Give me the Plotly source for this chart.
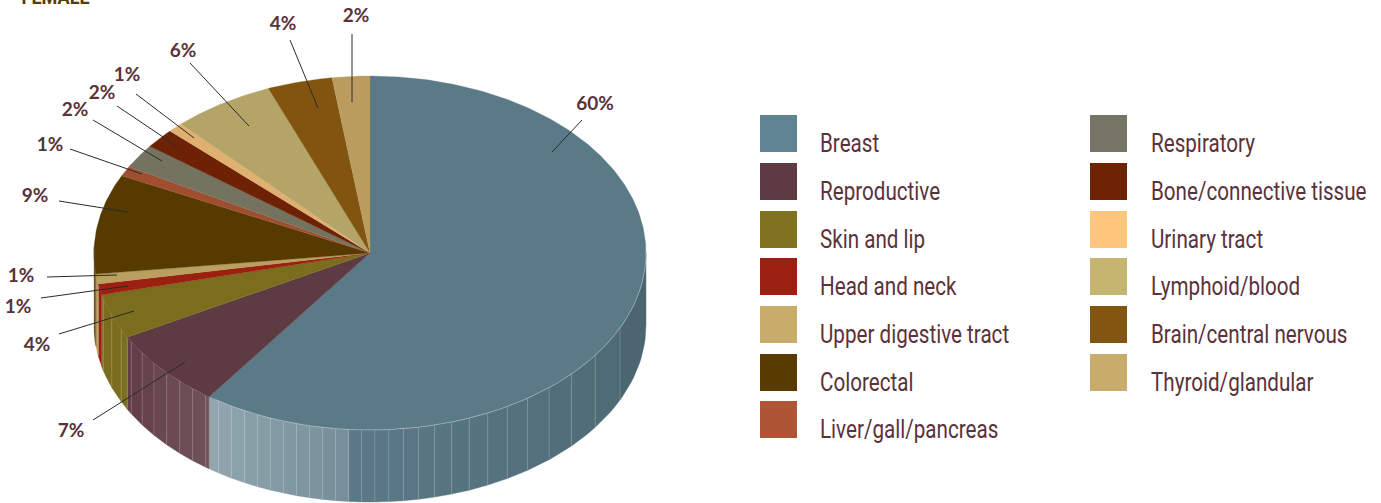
import math
import plotly.graph_objects as go

# ---- data ----
categories = ["Breast", "Reproductive", "Skin and lip", "Head and neck", "Upper digestive tract",
              "Colorectal", "Liver/gall/pancreas", "Respiratory", "Bone/connective tissue",
              "Urinary tract", "Lymphoid/blood", "Brain/central nervous", "Thyroid/glandular"]
slice_values = [59.9, 7.2, 4.1, 1.0, 0.9, 9.1, 0.9, 2.2, 1.8, 0.9, 6.0, 3.8, 2.2]
percent_labels = ["60%", "7%", "4%", "1%", "1%", "9%", "1%", "2%", "2%", "1%", "6%", "4%", "2%"]

# ---- styles ----
top_colors = ["#5b7a87", "#5e3a42", "#7b6d1e", "#9b2010", "#b9a060", "#573a00", "#a04e30",
              "#74735f", "#6e2205", "#e0b070", "#b5a468", "#815510", "#b99c5e"]
legend_colors = ["#608392", "#5e3a42", "#80731f", "#9c2010", "#c7ad69", "#573b00", "#b05436",
                 "#747565", "#6e2404", "#fec67c", "#c5b571", "#825611", "#c7ad69"]
INK = "#5a323a"
LEADER = "#2e2a2a"

# ---- layout constants (pixels of the page) ----
W, H = 1381, 503
CX, CY, RX, RY, DEPTH = 370, 253, 276, 177, 72

label_xy = [(595, 105), (71, 432), (37, 346), (18, 308), (21, 277), (35, 197), (50, 146),
            (75, 111), (102, 94), (127, 76), (183, 52), (283, 25), (356, 17)]
leader_xy = [((552, 152), (582, 120)), ((185, 362), (93, 420)), ((134, 311), (59, 334)),
             ((128, 286), (41, 298)), ((117, 275), (47, 277)), ((128, 212), (59, 201)),
             ((142, 174), (70, 149)), ((162, 161), (93, 120)), ((178, 147), (117, 106)),
             ((194, 138), (136, 94)), ((249, 126), (190, 63)), ((318, 108), (290, 40)),
             ((352, 102), (352, 34))]
swatch_x = [778.5] * 7 + [1108.5] * 6
swatch_y = [133.5, 181.5, 229.5, 276.5, 324.5, 372.5, 419.5, 133.5, 181.5, 229.5, 276.5, 324.5, 372.5]
legend_text_x = [820] * 7 + [1151] * 6
legend_text_dy = 12.5


def pt(deg, dy=0.0):
    a = math.radians(deg)
    return CX + RX * math.sin(a), CY - RY * math.cos(a) + dy


def shade(hex_color, deg):
    """facet shading: dark on the right, lighter towards the lower left"""
    r, g, b = (int(hex_color[i:i + 2], 16) for i in (1, 3, 5))
    if deg < 184.8:
        k = 0.82 + 0.18 * (deg - 90) / 95
        r, g, b = r * k, g * k, b * k
    else:
        k = min(0.34, 0.16 + 0.18 * (deg - 185) / 30) if deg < 216 else max(0.0, 0.12 - (deg - 216) * 0.004)
        r, g, b = r + (255 - r) * k, g + (255 - g) * k, b + (255 - b) * k
    return f"rgb({int(r)},{int(g)},{int(b)})"


def facet_angles():
    """wall facets: wide towards the right edge, narrow at the left edge, as in the picture"""
    out = [90.0]
    x = CX + RX
    while x > CX - RX + 3:
        if x > CX:
            step = 13 + 13 * (x - CX) / RX
        else:
            step = max(5, 13 - 8 * max(0, (CX - 200 - x)) / 106)
        x -= step
        dx = max(-1, min(1, (x - CX) / RX))
        deg = 180 - math.degrees(math.asin(dx))
        out.append(deg)
    out.append(272.0)
    return out


total = sum(slice_values)
edges = [0.0]
for v in slice_values:
    edges.append(edges[-1] + v / total * 360)

fig = go.Figure()

# side wall
seams = facet_angles()
seam_x, seam_y = [], []
for i in range(len(slice_values)):
    a0, a1 = max(edges[i], 90), min(edges[i + 1], 272)
    if a1 <= a0:
        continue
    cuts = [a0] + [s for s in seams if a0 < s < a1] + [a1]
    for s0, s1 in zip(cuts[:-1], cuts[1:]):
        n = max(2, int((s1 - s0) / 1.5))
        steps = [s0 + (s1 - s0) * k / n for k in range(n + 1)]
        top = [pt(s) for s in steps]
        bot = [pt(s, DEPTH) for s in reversed(steps)]
        xs = [p[0] for p in top + bot] + [top[0][0]]
        ys = [p[1] for p in top + bot] + [top[0][1]]
        col = shade(top_colors[i], (s0 + s1) / 2)
        fig.add_trace(go.Scatter(x=xs, y=ys, mode="lines", fill="toself", fillcolor=col,
                                 line=dict(width=0.4, color=col), hoverinfo="skip", showlegend=False))
        if s1 < 272:
            p, q = pt(s1), pt(s1, DEPTH)
            seam_x += [p[0], q[0], None]
            seam_y += [p[1], q[1], None]
fig.add_trace(go.Scatter(x=seam_x, y=seam_y, mode="lines",
                         line=dict(width=0.8, color="rgba(255,255,255,0.22)"),
                         hoverinfo="skip", showlegend=False))

# top face
for i in range(len(slice_values)):
    n = max(3, int((edges[i + 1] - edges[i]) * 2))
    arc = [pt(edges[i] + (edges[i + 1] - edges[i]) * k / n) for k in range(n + 1)]
    xs = [CX] + [p[0] for p in arc] + [CX]
    ys = [CY] + [p[1] for p in arc] + [CY]
    fig.add_trace(go.Scatter(x=xs, y=ys, mode="lines", fill="toself", fillcolor=top_colors[i],
                             line=dict(width=0.3, color=top_colors[i]),
                             hoverinfo="skip", showlegend=False))

# light rim along the front edge
rim = [pt(90 + k * 2) for k in range(63)]
fig.add_trace(go.Scatter(x=[p[0] for p in rim], y=[p[1] for p in rim], mode="lines",
                         line=dict(width=0.8, color="rgba(255,255,255,0.38)"),
                         hoverinfo="skip", showlegend=False))

# leader lines
for a, b in leader_xy:
    fig.add_trace(go.Scatter(x=[a[0], b[0]], y=[a[1], b[1]], mode="lines",
                             line=dict(width=1, color=LEADER), hoverinfo="skip", showlegend=False))

# percent labels
fig.add_trace(go.Scatter(x=[p[0] for p in label_xy], y=[p[1] for p in label_xy], mode="text",
                         text=percent_labels, textposition="middle center",
                         textfont=dict(family="Lato", size=19, color=INK, weight="bold"),
                         hoverinfo="skip", showlegend=False))

# legend
fig.add_trace(go.Scatter(x=swatch_x, y=swatch_y, mode="markers",
                         marker=dict(symbol="square", size=37, color=legend_colors, line=dict(width=0)),
                         hoverinfo="skip", showlegend=False))
fig.add_trace(go.Scatter(x=legend_text_x, y=[y + legend_text_dy for y in swatch_y], mode="text",
                         text=categories, textposition="middle right",
                         textfont=dict(family="Roboto", size=25, color=INK),
                         hoverinfo="skip", showlegend=False))

fig.add_annotation(x=16, y=9, xref="x", yref="y", text="<b>FEMALE</b>", showarrow=False,
                   xanchor="left", yanchor="bottom", borderpad=0, borderwidth=0,
                   font=dict(family="Roboto", size=21, color="#5a3d00"))

fig.update_layout(width=W, height=H, margin=dict(l=0, r=0, t=0, b=0),
                  paper_bgcolor="white", plot_bgcolor="white",
                  xaxis=dict(range=[0, W], visible=False, fixedrange=True),
                  yaxis=dict(range=[H, 0], visible=False, fixedrange=True))

# page without its default margin; the faces are narrowed to the reference's condensed type
POST = """
document.body.style.margin = '0';
document.body.style.overflow = 'hidden';
var gd = document.getElementById('{plot_id}');
var names = %s;
function narrow() {
  gd.querySelectorAll('text').forEach(function (t) {
    var k = t.textContent === 'FEMALE' ? 0.86 : (names.indexOf(t.textContent) >= 0 ? 0.825 : 0);
    if (k && !t.getAttribute('textLength')) {
      t.setAttribute('textLength', t.getComputedTextLength() * k);
      t.setAttribute('lengthAdjust', 'spacingAndGlyphs');
    }
  });
}
narrow();
gd.on('plotly_afterplot', narrow);
""" % str(categories)
fig.write_html("out.html", config={"displayModeBar": False}, post_script=POST)
